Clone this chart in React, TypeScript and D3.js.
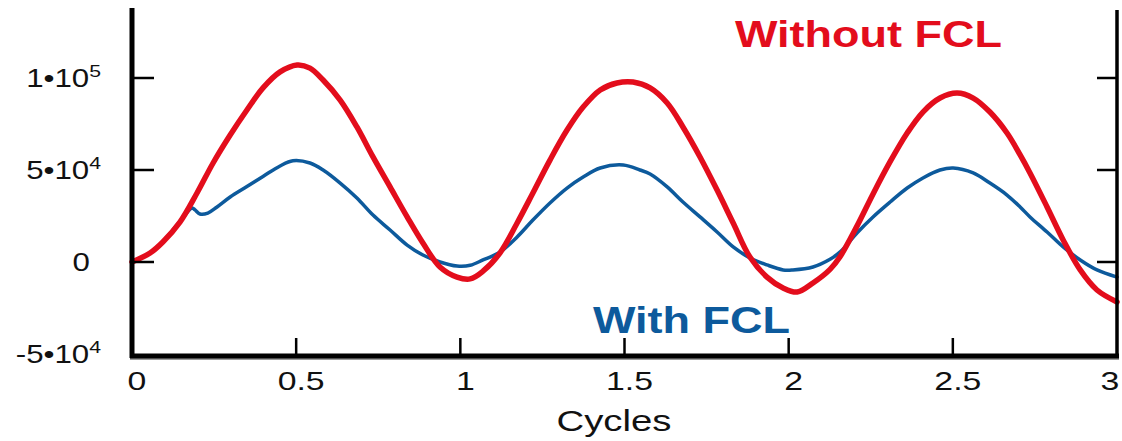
import React from "react";
import * as d3 from "d3";

const xTicks = [0, 0.5, 1, 1.5, 2, 2.5, 3];
const xTickLabels = ["0", "0.5", "1", "1.5", "2", "2.5", "3"];
const yTicks = [-50000, 0, 50000, 100000];
const yTickMantissa = ["-5•10", "0", "5•10", "1•10"];
const yTickExponent = ["4", "", "4", "5"];

const withoutX = [0, 0.055, 0.094, 0.146, 0.198, 0.247, 0.299, 0.35, 0.399, 0.451, 0.503, 0.542, 0.582, 0.634, 0.685, 0.734, 0.786, 0.838, 0.886, 0.938, 0.99, 1.03, 1.069, 1.121, 1.173, 1.221, 1.273, 1.325, 1.374, 1.426, 1.477, 1.526, 1.578, 1.63, 1.678, 1.73, 1.782, 1.831, 1.882, 1.934, 1.983, 2.026, 2.074, 2.126, 2.157, 2.208, 2.257, 2.309, 2.361, 2.409, 2.461, 2.513, 2.562, 2.613, 2.665, 2.705, 2.735, 2.787, 2.836, 2.888, 2.939, 3.0];
const withoutY = [0, 4900, 10900, 21700, 37500, 53800, 69000, 82600, 94600, 103300, 107100, 105400, 98900, 88000, 73400, 57100, 40800, 24500, 10300, -2700, -8200, -9200, -5000, 5000, 21200, 37500, 55400, 71700, 84200, 93500, 97300, 97800, 94600, 86400, 73400, 57100, 39100, 21200, 2700, -8200, -14100, -16300, -11400, -4000, 3000, 19500, 37000, 54500, 70100, 81500, 89100, 91800, 89100, 81500, 70100, 58200, 48400, 29900, 12000, -4300, -15200, -21700];

const withX = [0, 0.055, 0.094, 0.146, 0.183, 0.192, 0.207, 0.231, 0.259, 0.299, 0.35, 0.399, 0.451, 0.49, 0.542, 0.582, 0.634, 0.685, 0.734, 0.786, 0.838, 0.886, 0.938, 0.99, 1.03, 1.069, 1.121, 1.173, 1.221, 1.273, 1.325, 1.374, 1.426, 1.496, 1.547, 1.578, 1.63, 1.678, 1.73, 1.782, 1.831, 1.882, 1.934, 1.983, 2.013, 2.074, 2.126, 2.157, 2.208, 2.257, 2.309, 2.361, 2.409, 2.461, 2.501, 2.562, 2.613, 2.665, 2.705, 2.735, 2.787, 2.836, 2.888, 2.939, 3.0];
const withY = [0, 4900, 11000, 22000, 29300, 28300, 26100, 26600, 29900, 35300, 41000, 46500, 52200, 55000, 53800, 50000, 42900, 34800, 25500, 17400, 9200, 3800, 0, -2200, -1800, 1100, 5400, 13600, 22800, 32100, 40200, 46200, 51100, 52700, 50000, 47800, 40800, 32600, 24500, 16300, 8200, 2200, -1600, -4300, -4300, -2700, 1500, 5500, 15800, 24500, 32600, 40200, 45700, 50000, 51100, 48400, 42900, 36400, 29900, 24500, 16300, 8200, 1100, -4300, -8200];

const RED = "#e30d1c";
const BLUE = "#0d5a9c";
const FONT = "'Liberation Sans', Arial, Helvetica, sans-serif";

export default function App() {
  const W = 1122, H = 441;
  const x = d3.scaleLinear().domain([0, 3]).range([132, 1117]);
  const y = d3.scaleLinear().domain([-50000, 100000]).range([354, 78]);
  const line = d3.line<[number, number]>()
    .x((d) => x(d[0]))
    .y((d) => y(d[1]))
    .curve(d3.curveCatmullRom.alpha(0.5));
  const redPts = withoutX.map((v, i) => [v, withoutY[i]] as [number, number]);
  const bluePts = withX.map((v, i) => [v, withY[i]] as [number, number]);
  const x0 = x(0), x1 = x(3), yb = y(-50000) + 2;

  return (
    <svg width={W} height={H} style={{ position: "absolute", left: 0, top: 0, display: "block", background: "#fff" }}>
      <path d={line(bluePts) || ""} fill="none" stroke={BLUE} strokeWidth={3.5} strokeLinejoin="round" strokeLinecap="round" />
      <path d={line(redPts) || ""} fill="none" stroke={RED} strokeWidth={5.5} strokeLinejoin="round" strokeLinecap="round" />

      {yTicks.map((t, i) => (
        <g key={"yt" + i}>
          {i > 0 && <line x1={x0} x2={x0 + 22} y1={y(t)} y2={y(t)} stroke="#000" strokeWidth={2.5} />}
          {i > 0 && <line x1={x1 - 20} x2={x1} y1={y(t)} y2={y(t)} stroke="#000" strokeWidth={2.5} />}
          <g transform={`translate(${yTickExponent[i] ? 101 : 90},${y(t) + 9}) scale(1.25,1)`}>
            <text x={0} y={0} textAnchor="end" fontFamily={FONT} fontSize={25} fill="#111">
              {yTickMantissa[i]}
              {yTickExponent[i] && (
                <tspan fontSize={17} dy={-10}>{yTickExponent[i]}</tspan>
              )}
            </text>
          </g>
        </g>
      ))}

      {xTicks.map((t, i) => (
        <g key={"xt" + i}>
          {i > 0 && i < xTicks.length - 1 && (
            <line x1={x(t)} x2={x(t)} y1={yb} y2={yb - 18} stroke="#000" strokeWidth={2.5} />
          )}
          <g transform={`translate(${Math.min(x(t) + 5, 1110)},${390}) scale(1.3,1)`}>
            <text x={0} y={0} textAnchor="middle" fontFamily={FONT} fontSize={26} fill="#111">
              {xTickLabels[i]}
            </text>
          </g>
        </g>
      ))}

      <line x1={x1} x2={x1} y1={10} y2={yb + 2} stroke="#000" strokeWidth={3.5} />
      <line x1={x0 - 2} x2={x1 + 2} y1={yb + 3} y2={yb + 3} stroke="#999" strokeWidth={2} />
      <line x1={x0 - 2} x2={x1 + 2} y1={yb} y2={yb} stroke="#000" strokeWidth={5} />
      <line x1={x0} x2={x0} y1={8} y2={yb + 2} stroke="#000" strokeWidth={5} />

      <text x={614} y={431} textAnchor="middle" fontFamily={FONT} fontSize={29} fill="#111" textLength={115} lengthAdjust="spacingAndGlyphs">
        Cycles
      </text>

      <text x={735} y={47} fontFamily={FONT} fontWeight="bold" fontSize={36} fill={RED} textLength={267} lengthAdjust="spacingAndGlyphs">
        Without FCL
      </text>
      <text x={593} y={333} fontFamily={FONT} fontWeight="bold" fontSize={36} fill={BLUE} textLength={197} lengthAdjust="spacingAndGlyphs">
        With FCL
      </text>
    </svg>
  );
}
